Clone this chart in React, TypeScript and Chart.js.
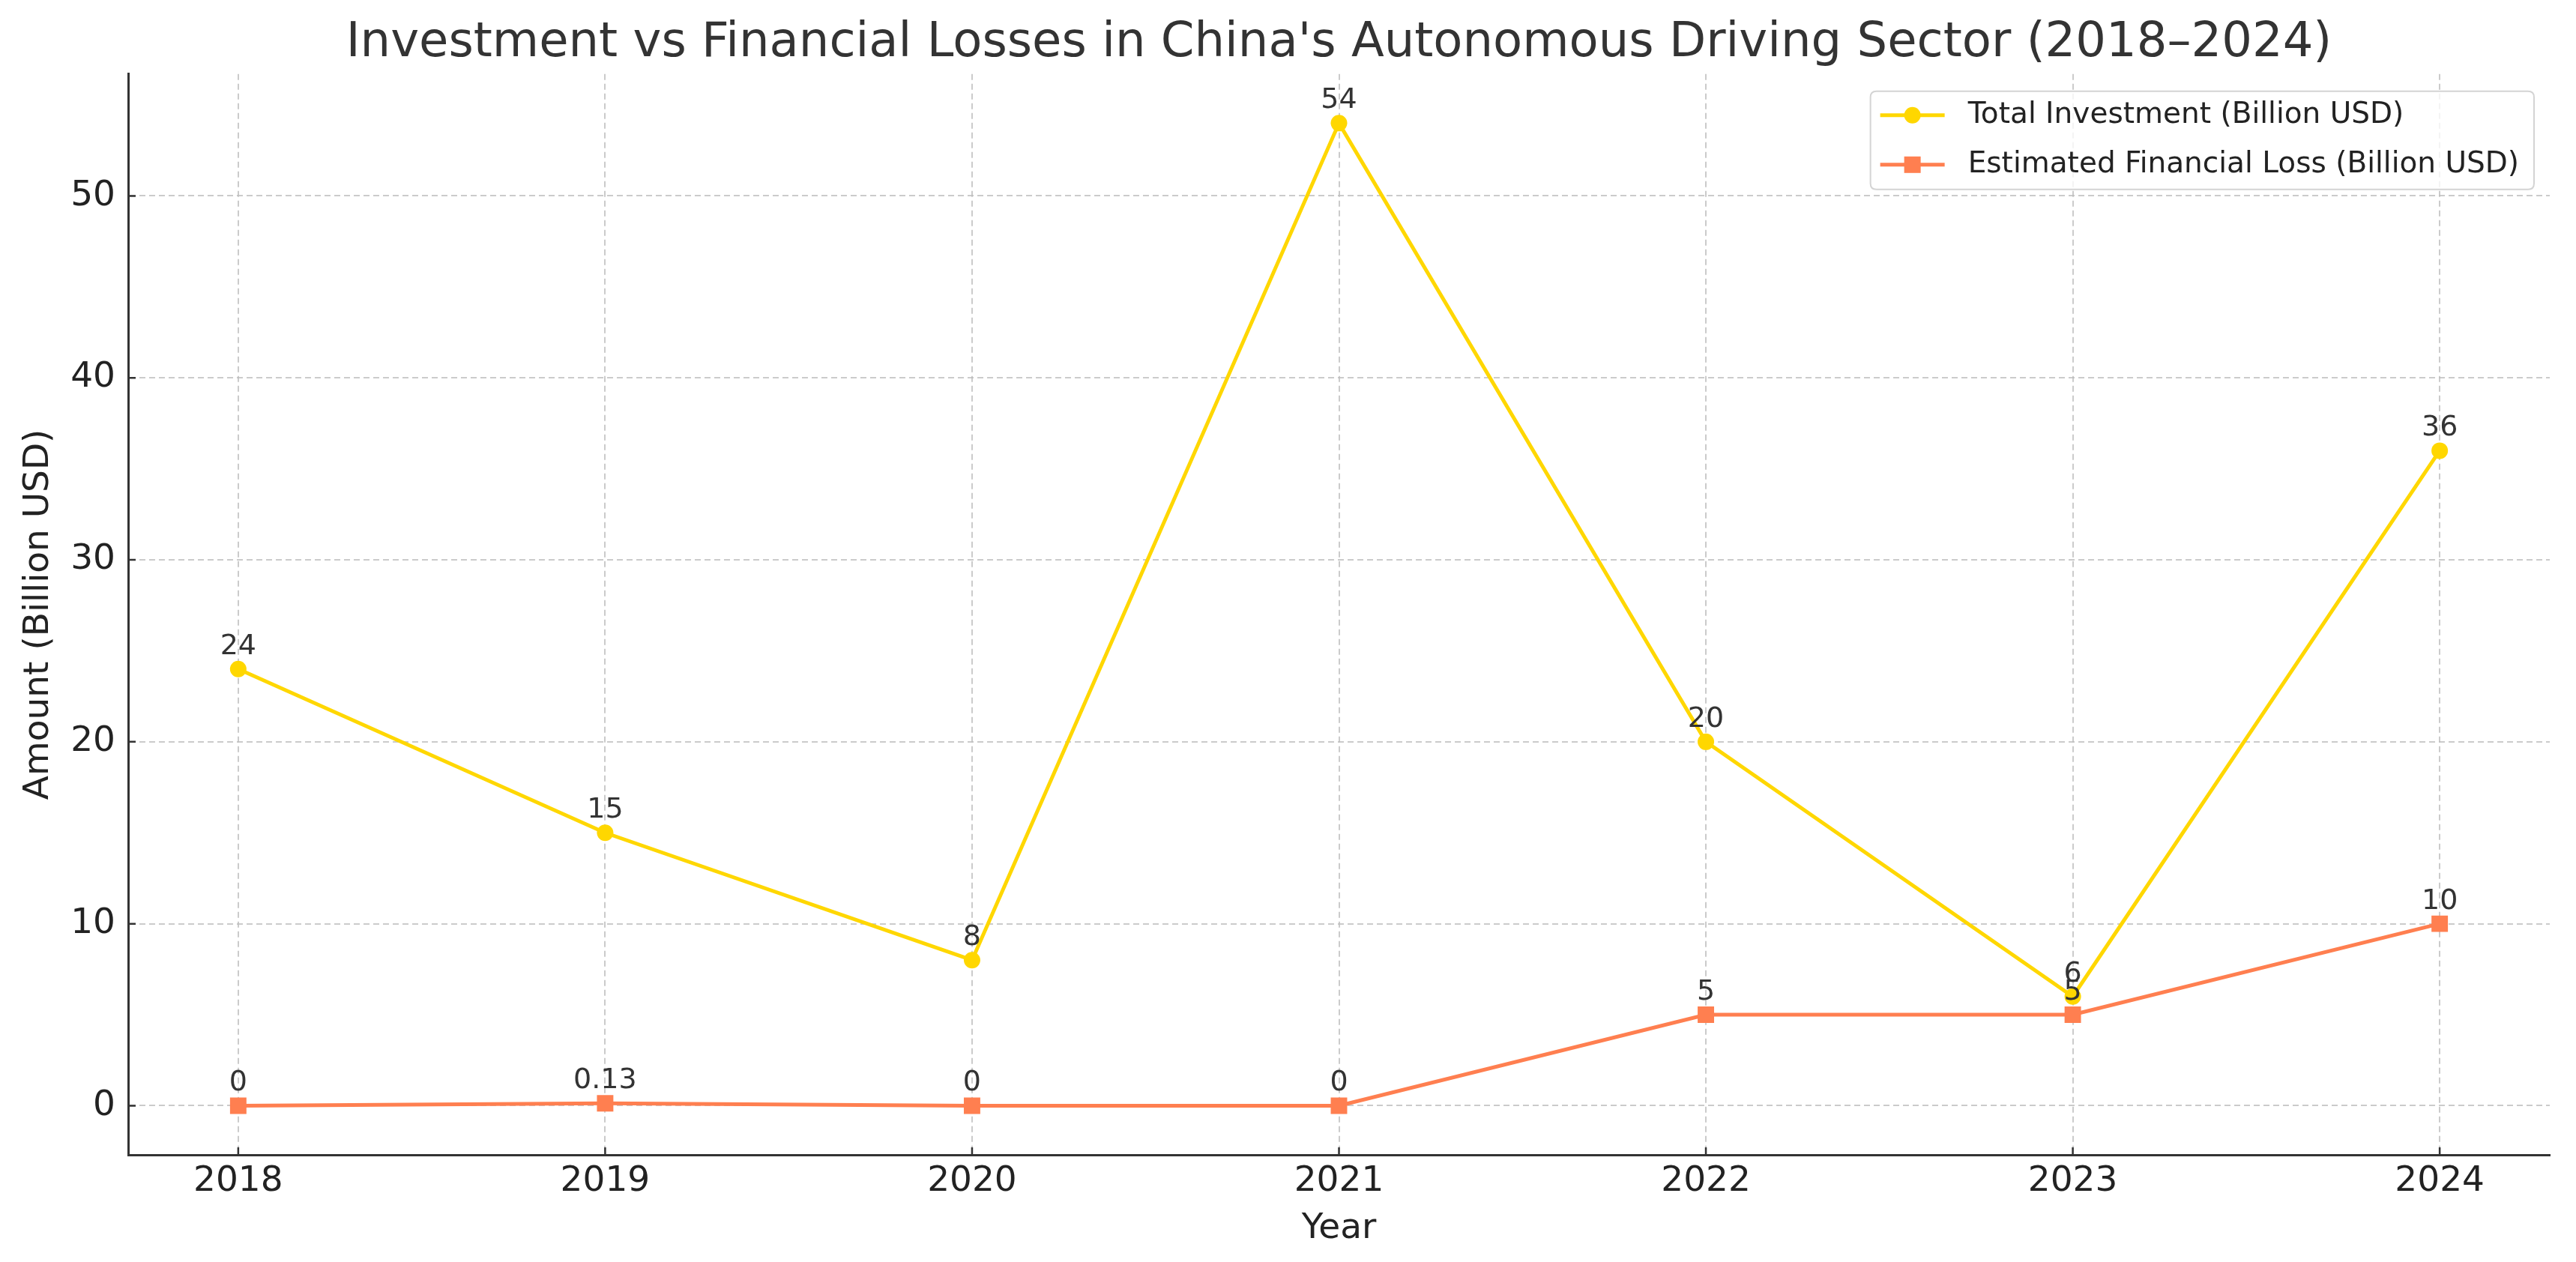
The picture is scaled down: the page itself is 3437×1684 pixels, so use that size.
import React, { useEffect, useRef } from "react";
import { Chart, registerables } from "chart.js";

Chart.register(...registerables);

const years = [2018, 2019, 2020, 2021, 2022, 2023, 2024];
const investment = [24, 15, 8, 54, 20, 6, 36];
const losses = [0, 0.13, 0, 0, 5, 5, 10];
const yTicks = [0, 10, 20, 30, 40, 50];
const seriesNames = ["Total Investment (Billion USD)", "Estimated Financial Loss (Billion USD)"];
const seriesColors = ["#FFD700", "#FF7F50"];
const seriesMarkers = ["circle", "rect"];
const titleText = "Investment vs Financial Losses in China's Autonomous Driving Sector (2018\u20132024)";
const xTitle = "Year";
const yTitle = "Amount (Billion USD)";

const W = 3437;
const H = 1684;
const FONT = "'DejaVu Sans', 'Liberation Sans', sans-serif";
const TEXT = "#222222";
const GRID = "rgba(190,190,190,0.8)";

function drawMarker(ctx: CanvasRenderingContext2D, style: string, x: number, y: number, color: string) {
  ctx.fillStyle = color;
  if (style === "rect") {
    ctx.fillRect(x - 11, y - 11, 22, 22);
  } else {
    ctx.beginPath();
    ctx.arc(x, y, 11, 0, Math.PI * 2);
    ctx.fill();
  }
}

const inwardTicks = {
  id: "inwardTicks",
  afterDatasetsDraw(chart: any) {
    const { ctx, chartArea, scales } = chart;
    ctx.save();
    ctx.strokeStyle = "#333333";
    ctx.lineWidth = 2.5;
    ctx.beginPath();
    for (const v of yTicks) {
      const y = scales.y.getPixelForValue(v);
      ctx.moveTo(chartArea.left, y);
      ctx.lineTo(chartArea.left + 10, y);
    }
    for (const v of years) {
      const x = scales.x.getPixelForValue(v);
      ctx.moveTo(x, chartArea.bottom);
      ctx.lineTo(x, chartArea.bottom - 10);
    }
    ctx.stroke();
    ctx.restore();
  },
};

const dataLabels = {
  id: "dataLabels",
  afterDatasetsDraw(chart: any) {
    const { ctx } = chart;
    ctx.save();
    ctx.font = `38px ${FONT}`;
    ctx.fillStyle = "#333333";
    ctx.textAlign = "center";
    ctx.textBaseline = "alphabetic";
    chart.data.datasets.forEach((ds: any, di: number) => {
      const meta = chart.getDatasetMeta(di);
      meta.data.forEach((pt: any, i: number) => {
        const v = ds.data[i].y;
        ctx.fillText(String(v), pt.x, pt.y - 20);
      });
    });
    ctx.restore();
  },
};

const customLegend = {
  id: "customLegend",
  afterDraw(chart: any) {
    const { ctx, chartArea } = chart;
    ctx.save();
    ctx.font = `39px ${FONT}`;
    const textW = Math.max(...seriesNames.map((n) => ctx.measureText(n).width));
    const padL = 13;
    const handle = 86;
    const gap = 31;
    const padR = 20;
    const boxW = padL + handle + gap + textW + padR;
    const boxH = 131;
    const right = chartArea.right - 21;
    const left = right - boxW;
    const top = chartArea.top + 23;
    const r = 8;
    ctx.beginPath();
    ctx.moveTo(left + r, top);
    ctx.lineTo(right - r, top);
    ctx.quadraticCurveTo(right, top, right, top + r);
    ctx.lineTo(right, top + boxH - r);
    ctx.quadraticCurveTo(right, top + boxH, right - r, top + boxH);
    ctx.lineTo(left + r, top + boxH);
    ctx.quadraticCurveTo(left, top + boxH, left, top + boxH - r);
    ctx.lineTo(left, top + r);
    ctx.quadraticCurveTo(left, top, left + r, top);
    ctx.closePath();
    ctx.fillStyle = "rgba(255,255,255,0.8)";
    ctx.fill();
    ctx.strokeStyle = "#d4d4d4";
    ctx.lineWidth = 2;
    ctx.stroke();
    const rows = [top + 32, top + 98];
    seriesNames.forEach((name, i) => {
      const y = rows[i];
      ctx.strokeStyle = seriesColors[i];
      ctx.lineWidth = 5;
      ctx.beginPath();
      ctx.moveTo(left + padL, y);
      ctx.lineTo(left + padL + handle, y);
      ctx.stroke();
      drawMarker(ctx, seriesMarkers[i], left + padL + handle / 2, y, seriesColors[i]);
      ctx.fillStyle = TEXT;
      ctx.textAlign = "left";
      ctx.textBaseline = "middle";
      ctx.fillText(name, left + padL + handle + gap, y);
    });
    ctx.restore();
  },
};

export default function App() {
  const ref = useRef<HTMLCanvasElement | null>(null);

  useEffect(() => {
    if (!ref.current) return;
    const chart = new Chart(ref.current, {
      type: "line",
      data: {
        datasets: [
          {
            label: seriesNames[0],
            data: years.map((yr, i) => ({ x: yr, y: investment[i] })),
            borderColor: seriesColors[0],
            backgroundColor: seriesColors[0],
            pointBackgroundColor: seriesColors[0],
            pointBorderWidth: 0,
            pointStyle: "circle",
            pointRadius: 11,
            borderWidth: 5,
            tension: 0,
            fill: false,
            order: 1,
          },
          {
            label: seriesNames[1],
            data: years.map((yr, i) => ({ x: yr, y: losses[i] })),
            borderColor: seriesColors[1],
            backgroundColor: seriesColors[1],
            pointBackgroundColor: seriesColors[1],
            pointBorderWidth: 0,
            pointStyle: "rect",
            pointRadius: 15.5,
            borderWidth: 5,
            tension: 0,
            fill: false,
            order: 0,
          },
        ],
      },
      options: {
        responsive: false,
        animation: false,
        devicePixelRatio: 1,
        events: [],
        layout: { padding: { left: 0, top: 0, right: 35, bottom: 0 } },
        plugins: {
          legend: { display: false },
          tooltip: { enabled: false },
          title: {
            display: true,
            text: titleText,
            fullSize: false,
            color: "#333333",
            font: { family: FONT, size: 64, weight: "normal" },
            padding: { top: 20, bottom: 2 },
          },
        },
        scales: {
          x: {
            type: "linear",
            min: 2017.7,
            max: 2024.3,
            afterBuildTicks: (s: any) => {
              s.ticks = years.map((v) => ({ value: v }));
            },
            afterFit: (s: any) => {
              s.height = 143;
            },
            ticks: {
              callback: (v: any) => String(v),
              font: { family: FONT, size: 47 },
              color: TEXT,
              padding: 8,
              maxRotation: 0,
              autoSkip: false,
            },
            grid: {
              color: GRID,
              lineWidth: 2,
              drawTicks: false,
              borderDash: [8, 5],
            },
            border: { display: true, color: "#333333", width: 3, dash: [8, 5] },
            title: {
              display: true,
              text: xTitle,
              color: TEXT,
              font: { family: FONT, size: 47 },
              padding: { top: 0, bottom: 16 },
            },
          },
          y: {
            type: "linear",
            min: -2.7,
            max: 56.7,
            afterBuildTicks: (s: any) => {
              s.ticks = yTicks.map((v) => ({ value: v }));
            },
            afterFit: (s: any) => {
              s.width = 171;
            },
            ticks: {
              includeBounds: false,
              font: { family: FONT, size: 47 },
              color: TEXT,
              padding: 17,
            },
            grid: {
              color: GRID,
              lineWidth: 2,
              drawTicks: false,
              borderDash: [8, 5],
            },
            border: { display: true, color: "#333333", width: 3, dash: [8, 5] },
            title: {
              display: true,
              text: yTitle,
              color: TEXT,
              font: { family: FONT, size: 47 },
              padding: { top: 24, bottom: 0 },
            },
          },
        },
      },
      plugins: [inwardTicks, dataLabels, customLegend],
    } as any);
    return () => chart.destroy();
  }, []);

  return (
    <div style={{ position: "fixed", left: 0, top: 0, width: W, height: H, background: "#ffffff" }}>
      <canvas ref={ref} width={W} height={H} style={{ width: W, height: H, display: "block" }} />
    </div>
  );
}
